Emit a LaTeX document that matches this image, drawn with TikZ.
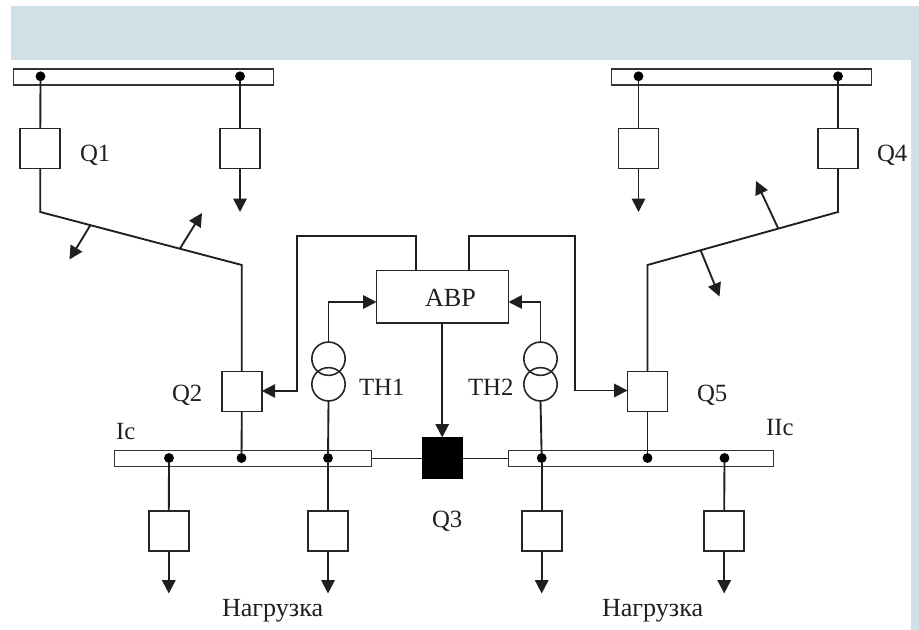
\documentclass[tikz,border=0pt]{standalone}
\usepackage{fontspec}
\setmainfont{Liberation Serif}
\usetikzlibrary{arrows.meta}
\definecolor{band}{RGB}{209,223,230}
\tikzset{
  wire/.style={line width=1.4pt,draw=black!88},
  arr/.style={wire,-{Triangle[length=10pt,width=10pt]},shorten >=0pt},
  sw/.style={draw=black!85,line width=1.3pt,fill=white,minimum width=30pt,minimum height=30pt,inner sep=0pt,outer sep=0pt},
  swon/.style={fill=black,draw=black,line width=0pt,minimum width=30pt,minimum height=30.5pt,inner sep=0pt,outer sep=0pt},
  bus/.style={draw=black!80,line width=1.3pt,fill=white,inner sep=0pt,outer sep=0pt,minimum height=12pt},
  dotn/.style={circle,fill=black,minimum size=7.4pt,inner sep=0pt,outer sep=0pt},
  tv/.style={circle,draw=black!85,line width=1.2pt,minimum size=25pt,inner sep=0pt,outer sep=0pt},
  lbl/.style={anchor=base west,inner sep=0pt,outer sep=0pt,font=\fontsize{18.6pt}{20pt}\selectfont,text=black!88},
  lblb/.style={lbl,font=\fontsize{19.6pt}{21pt}\selectfont},
  x=0.75pt,y=-0.75pt
}
\begin{document}
\begin{tikzpicture}
\useasboundingbox (0,0) rectangle (919,630);
\fill[band] (11,6) rectangle (919,60);
\fill[band] (911,60) rectangle (919,630);
% bars
\node[bus,minimum width=195pt] (bTL) at (143.5,77) {};
\node[bus,minimum width=195pt] (bTR) at (741.5,77) {};
\node[bus,minimum width=192.75pt] (bBL) at (243,458.5) {};
\node[bus,minimum width=198.75pt] (bBR) at (641,458.5) {};
% switches
\node[sw] (q1) at (40.3,148.5) {};
\node[sw] (s2) at (240,148.5) {};
\node[sw] (s3) at (638.5,148.5) {};
\node[sw] (q4) at (838,148.5) {};
\node[sw] (q2) at (241.8,391.5) {};
\node[sw] (q5) at (647.5,391.5) {};
\node[swon] (q3) at (442.2,457.7) {};
\node[sw] (s6) at (168.8,530.7) {};
\node[sw] (s7) at (328,530.7) {};
\node[sw] (s8) at (541.7,530.7) {};
\node[sw] (s9) at (724.2,530.7) {};
\node[draw=black!85,line width=1.3pt,fill=white,minimum width=99pt,minimum height=39.5pt,inner sep=0pt,outer sep=0pt] (abr) at (442.5,296.8) {};
% dots
\foreach \n/\x/\y in {d1/40.5/76.3,d2/240/76.3,d3/638.5/76.3,d4/838/76.3,d5/169/458,d6/241.5/458,d7/328/458,d8/541.7/458,d9/647.5/458,d10/724.5/458}
  \node[dotn] (\n) at (\x,\y) {};
% transformers
\node[tv] (t1a) at (328.5,358.7) {};
\node[tv] (t1b) at (328.5,384.3) {};
\node[tv] (t2a) at (540.5,358.7) {};
\node[tv] (t2b) at (540.5,384.3) {};
% free ends
\coordinate (a1) at (240,212);
\coordinate (a2) at (638.5,212);
\coordinate (k1) at (40.3,212);
\coordinate (k2) at (241.8,265);
\coordinate (k3) at (838,212);
\coordinate (k4) at (647.5,265);
\coordinate (f1) at (90.5,225);
\coordinate (f1e) at (69.5,259.5);
\coordinate (f2) at (180,248.5);
\coordinate (f2e) at (202,213);
\coordinate (f3) at (778,228);
\coordinate (f3e) at (756,181);
\coordinate (f4) at (700.5,250);
\coordinate (f4e) at (719.5,296.5);
\coordinate (e6) at (168.8,593.5);
\coordinate (e7) at (328,593.5);
\coordinate (e8) at (541.7,593.5);
\coordinate (e9) at (724.2,593.5);
\coordinate (c1) at (416,236);
\coordinate (c2) at (297,236);
\coordinate (c3) at (297,391);
\coordinate (c4) at (469,236);
\coordinate (c5) at (575,236);
\coordinate (c6) at (575,390.5);
\coordinate (c7) at (328.5,302);
\coordinate (c8) at (540.5,302);
% top wires
\draw[wire] (d1) -- (q1.north);
\draw[wire] (d2) -- (s2.north);
\draw[wire] (d3) -- (s3.north);
\draw[wire] (d4) -- (q4.north);
\draw[arr] (s2.south) -- (a1);
\draw[arr] (s3.south) -- (a2);
\draw[wire,line join=miter] (q1.south) -- (k1) -- (k2) -- (q2.north);
\draw[wire,line join=miter] (q4.south) -- (k3) -- (k4) -- (q5.north);
\draw[arr] (f1) -- (f1e);
\draw[arr] (f2) -- (f2e);
\draw[arr] (f3) -- (f3e);
\draw[arr] (f4) -- (f4e);
% control
\draw[arr] (c1 |- abr.north) -- (c1) -- (c2) -- (c3) -- (q2.east |- c3);
\draw[arr] (c4 |- abr.north) -- (c4) -- (c5) -- (c6) -- (q5.west |- c6);
\draw[arr] (t1a.north) -- (c7) -- (abr.west |- c7);
\draw[arr] (t2a.north) -- (c8) -- (abr.east |- c8);
\draw[arr] (abr.south -| q3.north) -- (q3.north);
\draw[wire] (t1b.south) -- (d7);
\draw[wire] (t2b.south) -- (d8);
\draw[wire] (q2.south) -- (d6);
\draw[wire] (q5.south) -- (d9);
% bus tie
\draw[wire] (bBL.east) -- (q3.west |- bBL.east);
\draw[wire] (q3.east |- bBR.west) -- (bBR.west);
% outgoing
\draw[wire] (d5) -- (s6.north);
\draw[wire] (d7) -- (s7.north);
\draw[wire] (d8) -- (s8.north);
\draw[wire] (d10) -- (s9.north);
\draw[arr] (s6.south) -- (e6);
\draw[arr] (s7.south) -- (e7);
\draw[arr] (s8.south) -- (e8);
\draw[arr] (s9.south) -- (e9);
% labels
\node[lbl] (lq1) at (80,162) {Q1};
\node[lbl] (lq4) at (877,162) {Q4};
\node[lbl] (lq2) at (172,401) {Q2};
\node[lbl] (lq5) at (697,401.5) {Q5};
\node[lbl] (lq3) at (432,527) {Q3};
\node[lbl] (lt1) at (359,395) {ТН1};
\node[lbl] (lt2) at (468,395) {ТН2};
\node[lbl] (lic) at (116,439) {Iс};
\node[lbl] (liic) at (766,435) {IIс};
\node[lblb] (lav) at (425,306) {АВР};
\node[lblb] (ln1) at (222,616) {Нагрузка};
\node[lblb] (ln2) at (602,616) {Нагрузка};
\end{tikzpicture}
\end{document}
